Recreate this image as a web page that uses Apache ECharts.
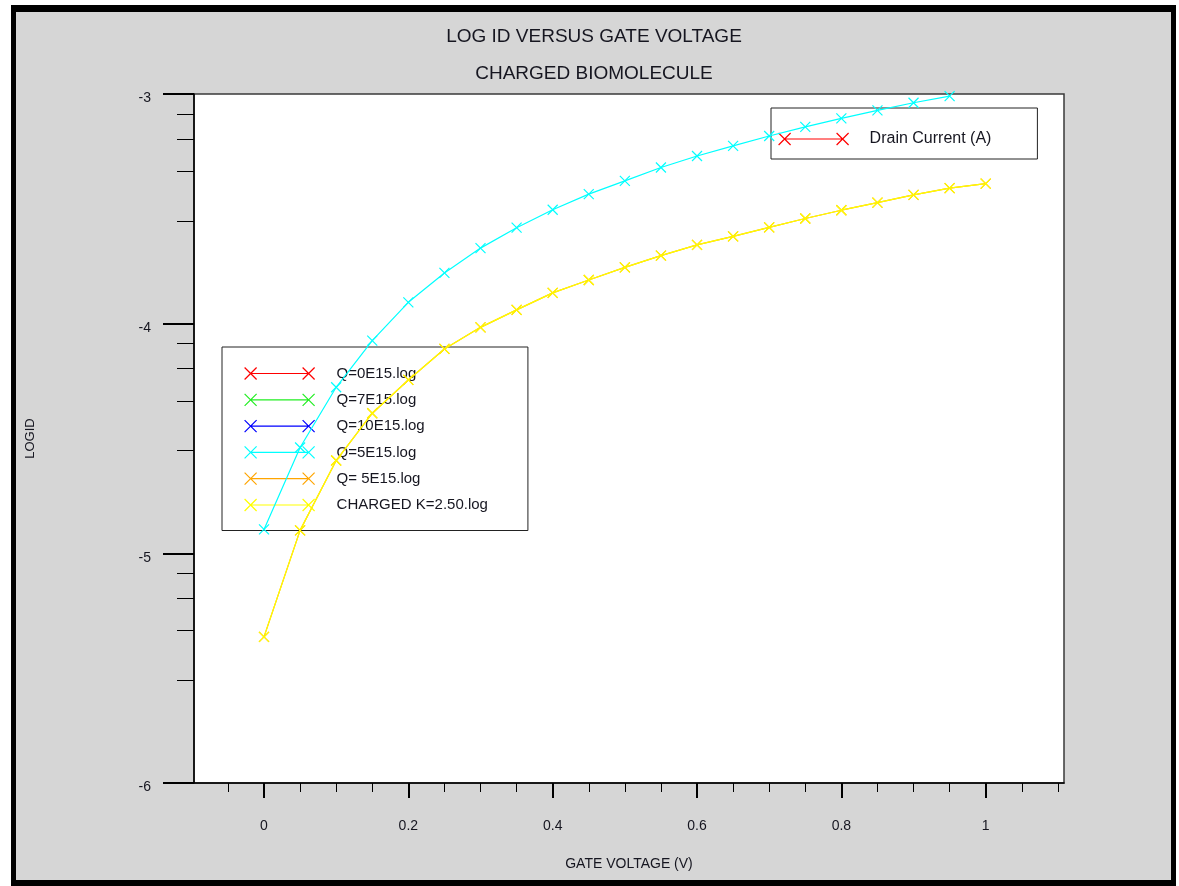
<!DOCTYPE html>
<html>
<head>
<meta charset="utf-8">
<title>LOG ID VERSUS GATE VOLTAGE</title>
<script src="https://cdn.jsdelivr.net/npm/echarts@6/dist/echarts.min.js"></script>
<style>
  html, body { margin: 0; padding: 0; background: #ffffff; }
  #frame {
    position: absolute; left: 11px; top: 5px; width: 1165px; height: 881px;
    box-sizing: border-box; border: solid #000; border-width: 7px 5px 6px 5px;
    background: #d6d6d6;
  }
  #chart { position: absolute; left: 0; top: 0; width: 1179px; height: 886px; }
</style>
</head>
<body>
<div id="frame"></div>
<div id="chart"></div>
<script>
// Gate voltage sweep (V)
const gateVoltage = [0, 0.05, 0.1, 0.15, 0.2, 0.25, 0.3, 0.35, 0.4, 0.45, 0.5,
                     0.55, 0.6, 0.65, 0.7, 0.75, 0.8, 0.85, 0.9, 0.95, 1.0];

// log10(Id) per structure
const logIdQ0 = [];
const logIdQ7 = [];
const logIdQ10 = [];
const logIdQ5 = [-4.896, -4.539, -4.277, -4.074, -3.907, -3.779, -3.671, -3.582, -3.504, -3.436,
                 -3.378, -3.320, -3.270, -3.226, -3.183, -3.143, -3.106, -3.071, -3.038, -3.009];
const logIdQ5b = [-5.364, -4.900, -4.596, -4.390, -4.245, -4.110, -4.016, -3.940, -3.866, -3.810,
                  -3.755, -3.704, -3.657, -3.620, -3.581, -3.542, -3.506, -3.473, -3.439, -3.410, -3.390];
const logIdK250 = [-5.364, -4.900, -4.596, -4.390, -4.245, -4.110, -4.016, -3.940, -3.866, -3.810,
                   -3.755, -3.704, -3.657, -3.620, -3.581, -3.542, -3.506, -3.473, -3.439, -3.410, -3.390];
const drainCurrent = [];

// Axis ticks
const xMajorTicks = [0, 0.2, 0.4, 0.6, 0.8, 1];
const xMinorTicks = [-0.05, 0.05, 0.1, 0.15, 0.25, 0.3, 0.35, 0.45, 0.5, 0.55, 0.65, 0.7, 0.75,
                     0.85, 0.9, 0.95, 1.05, 1.1];
const yMajorTicks = [-6, -5, -4, -3];
const yMinorTicks = [-3.087, -3.195, -3.337, -3.553,
                     -4.087, -4.195, -4.337, -4.553,
                     -5.087, -5.195, -5.337, -5.553];

const seriesNames = ['Q=0E15.log', 'Q=7E15.log', 'Q=10E15.log', 'Q=5E15.log', 'Q= 5E15.log', 'CHARGED K=2.50.log'];
const seriesColors = ['#ff0000', '#22ee22', '#0000ff', '#00ffff', '#ffa500', '#ffff00'];
const seriesValues = [logIdQ0, logIdQ7, logIdQ10, logIdQ5, logIdQ5b, logIdK250];

const FONT = "'Liberation Sans', Arial, sans-serif";
const TEXT = '#161620';
const X_MIN = -0.097, X_MAX = 1.1085, Y_MIN = -6, Y_MAX = -3;

// Cross marker and legend glyph (cross - line - cross)
const crossSymbol = 'path://M0,0L10,10M10,0L0,10';
const legendGlyph = 'path://M0,0L12,12M12,0L0,12M6,6L64,6M58,0L70,12M70,0L58,12';

function lineSeries(name, color, values) {
  return {
    name: name,
    type: 'line',
    z: 3,
    data: values.map((v, i) => [gateVoltage[i], v]),
    symbol: crossSymbol,
    symbolSize: 10,
    showAllSymbol: true,
    lineStyle: { color: color, width: 1.2 },
    itemStyle: { color: color, borderColor: color, borderWidth: 1.2 },
    emphasis: { disabled: true },
    animation: false
  };
}

const series = seriesNames.map((n, i) => lineSeries(n, seriesColors[i], seriesValues[i]));
series.push(lineSeries('Drain Current (A)', '#ff0000', drainCurrent));

const chart = echarts.init(document.getElementById('chart'), null, { renderer: 'canvas' });
chart.setOption({
  backgroundColor: 'transparent',
  animation: false,
  textStyle: { fontFamily: FONT },
  graphic: [
    { type: 'text', x: 594, y: 37, style: { text: 'LOG ID VERSUS GATE VOLTAGE', fontSize: 19, fontFamily: FONT, fill: TEXT, textAlign: 'center', textVerticalAlign: 'middle' } },
    { type: 'text', x: 594, y: 74, style: { text: 'CHARGED BIOMOLECULE', fontSize: 19, fontFamily: FONT, fill: TEXT, textAlign: 'center', textVerticalAlign: 'middle' } }
  ],
  grid: {
    left: 194, top: 94, width: 870, height: 689,
    show: true, backgroundColor: '#ffffff', borderColor: '#3a3a3a', borderWidth: 1.5,
    containLabel: false, outerBoundsMode: 'none'
  },
  legend: [
    {
      data: seriesNames, orient: 'vertical', left: 222, top: 347, z: 1,
      padding: [19, 40, 18, 22], itemGap: 11.3, itemWidth: 70, itemHeight: 12,
      icon: legendGlyph, selectedMode: false,
      backgroundColor: '#ffffff', borderColor: '#222', borderWidth: 1,
      itemStyle: { color: 'inherit', borderColor: 'inherit', borderWidth: 1.2 },
      textStyle: { fontSize: 15, fontFamily: FONT, color: TEXT, padding: [0, 0, 0, 17] }
    },
    {
      data: ['Drain Current (A)'], orient: 'vertical', left: 771, top: 108, z: 1,
      padding: [23, 46, 12, 7], itemWidth: 70, itemHeight: 12,
      icon: legendGlyph, selectedMode: false,
      backgroundColor: '#ffffff', borderColor: '#222', borderWidth: 1,
      itemStyle: { color: 'inherit', borderColor: 'inherit', borderWidth: 1.2 },
      textStyle: { fontSize: 16, fontFamily: FONT, color: TEXT, padding: [0, 0, 0, 16] }
    }
  ],
  xAxis: [
    {
      type: 'value', min: X_MIN, max: X_MAX, position: 'bottom',
      name: 'GATE VOLTAGE (V)', nameLocation: 'middle', nameGap: 74,
      nameTextStyle: { fontSize: 14, fontFamily: FONT, color: TEXT },
      axisLine: { show: true, onZero: false, lineStyle: { color: '#000', width: 1.5 } },
      axisTick: { show: true, customValues: xMajorTicks, length: 15, lineStyle: { color: '#000', width: 2 } },
      axisLabel: { customValues: xMajorTicks, margin: 36, fontSize: 14, fontFamily: FONT, color: TEXT,
                   formatter: v => String(v) },
      splitLine: { show: false }
    },
    {
      type: 'value', min: X_MIN, max: X_MAX, position: 'bottom',
      axisLine: { show: false, onZero: false },
      axisTick: { show: true, customValues: xMinorTicks, length: 9, lineStyle: { color: '#000', width: 1 } },
      axisLabel: { show: false },
      splitLine: { show: false }
    }
  ],
  yAxis: [
    {
      type: 'value', min: Y_MIN, max: Y_MAX, position: 'left',
      name: 'LOGID', nameLocation: 'middle', nameRotate: 90, nameGap: 157,
      nameTextStyle: { fontSize: 13, fontFamily: FONT, color: TEXT },
      axisLine: { show: true, onZero: false, lineStyle: { color: '#000', width: 1.5 } },
      axisTick: { show: true, customValues: yMajorTicks, length: 31, lineStyle: { color: '#000', width: 2 } },
      axisLabel: { customValues: yMajorTicks, margin: 43, fontSize: 14, fontFamily: FONT, color: TEXT,
                   verticalAlign: 'top', lineHeight: 9, formatter: v => String(v) },
      splitLine: { show: false }
    },
    {
      type: 'value', min: Y_MIN, max: Y_MAX, position: 'left',
      axisLine: { show: false, onZero: false },
      axisTick: { show: true, customValues: yMinorTicks, length: 17, lineStyle: { color: '#000', width: 1 } },
      axisLabel: { show: false },
      splitLine: { show: false }
    }
  ],
  series: series
});
</script>
</body>
</html>
